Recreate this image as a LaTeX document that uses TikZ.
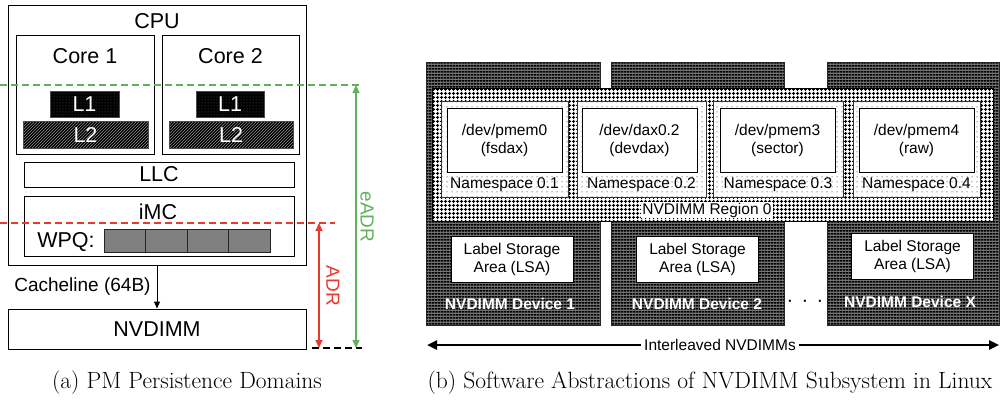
\documentclass[tikz,border=0pt]{standalone}
\usepackage{fontspec}
\setsansfont{Liberation Sans}
\usetikzlibrary{arrows.meta,patterns,patterns.meta}
\definecolor{adrred}{RGB}{232,58,45}
\definecolor{eadrgreen}{RGB}{96,178,90}

\tikzdeclarepattern{name=regiongrid, type=uncolored,
  bounding box={(0pt,0pt) and (4pt,4pt)}, tile size={(4pt,4pt)},
  code={\draw[line width=1.5pt] (0pt,2pt) -- (4pt,2pt) (2pt,0pt) -- (2pt,4pt);}}
\tikzdeclarepattern{name=devstripes, type=uncolored,
  bounding box={(0pt,0pt) and (3pt,3pt)}, tile size={(3pt,3pt)},
  code={\draw[line width=1.9pt] (0pt,1.5pt) -- (3pt,1.5pt);}}
\tikzdeclarepattern{name=nsdots, type=uncolored,
  bounding box={(0pt,0pt) and (5pt,5pt)}, tile size={(5pt,5pt)},
  code={\fill (2.5pt,2.5pt) circle (0.6pt);}}
\tikzdeclarepattern{name=cachedots, type=uncolored,
  bounding box={(0pt,0pt) and (2.5pt,2.5pt)}, tile size={(2.5pt,2.5pt)},
  code={\fill (1.25pt,1.25pt) circle (0.5pt);}}

\tikzset{
  sz/.style 2 args={minimum width=#1, minimum height=#2},
  box/.style={draw, line width=0.9pt, inner sep=0pt, fill=white},
  bigtxt/.style={font=\sffamily\fontsize{21.5}{24}\selectfont},
  midtxt/.style={font=\sffamily\fontsize{19}{22}\selectfont},
  smalltxt/.style={font=\sffamily\fontsize{15.5}{18}\selectfont},
  captxt/.style={font=\fontsize{23.5}{26}\selectfont},
  lonebox/.style={draw=black!70, line width=0.8pt, inner sep=0pt, text=white,
    preaction={fill=black}, pattern=cachedots, pattern color=black!55, bigtxt},
  ltwobox/.style={draw=black!70, line width=0.8pt, inner sep=0pt, text=white,
    preaction={fill=black}, pattern=north east lines, pattern color=black!45, bigtxt},
  wpqcell/.style={draw=black!85, line width=0.9pt, fill=black!50, sz={41.5}{23}},
  device/.style={draw=black!85, line width=0.8pt, preaction={fill=black!55},
    pattern=devstripes, pattern color=black},
  nsbox/.style={draw=black!80, line width=0.8pt, preaction={fill=white},
    pattern=nsdots, pattern color=black, sz={#1}{96}},
  devbox/.style={box, line width=0.8pt, sz={115}{64}, smalltxt, align=center},
  lsabox/.style={box, line width=0.8pt, sz={122}{46}, smalltxt, align=center},
  devlabel/.style={text=white, font=\sffamily\bfseries\fontsize{15.5}{18}\selectfont},
  domainline/.style={dash pattern=on 7pt off 4pt, line width=1.1pt},
  spanarrow/.style={{Triangle[length=8pt,width=7pt]}-{Triangle[length=8pt,width=7pt]}, line width=1.1pt}
}

\begin{document}
\begin{tikzpicture}[x=1pt,y=-1pt]
  \useasboundingbox (0,0) rectangle (1008,399);

  %%%%% (a) persistence domains %%%%%
  \node[box, sz={298}{260}] (cpu) at (157,135) {};
  \node[bigtxt] (cputxt) at (157,21) {CPU};

  \node[box, sz={138}{119}] (core1) at (85,94.5) {};
  \node[bigtxt] (core1txt) at (85,56) {Core 1};
  \node[box, sz={137}{119}] (core2) at (230.5,94.5) {};
  \node[bigtxt] (core2txt) at (230.5,56) {Core 2};

  \node[lonebox, sz={69}{26}] (lonea) at (84.5,104) {L1};
  \node[ltwobox, sz={125}{27}] (ltwoa) at (85.5,134.5) {L2};
  \node[lonebox, sz={68}{26}] (loneb) at (230,104) {L1};
  \node[ltwobox, sz={124}{27}] (ltwob) at (231,134.5) {L2};

  \node[box, sz={270}{25}, bigtxt] (llc) at (159,174.5) {LLC};
  \node[box, sz={270}{60}] (imc) at (159,226) {};
  \node[bigtxt] (imctxt) at (158,212) {iMC};
  \node[bigtxt] (wpqtxt) at (66,242) {WPQ:};
  \foreach \i in {0,...,3}
    \node[wpqcell] (wpq\i) at (124.75+41.5*\i,240.5) {};

  \node[box, sz={298}{40}, bigtxt] (nvdimm) at (157,329) {NVDIMM};
  \draw[-{Triangle[length=7pt,width=6pt]}, line width=0.9pt] (cpu.south) -- (nvdimm.north)
    node[midway, left, inner sep=6pt, midtxt] (cacheline) {Cacheline (64B)};

  % domains
  \coordinate (greenl) at (0,85);
  \coordinate (greenr) at (362,85);
  \coordinate (redl) at (0,223);
  \coordinate (redr) at (335,223);
  \coordinate (basel) at (312,348);
  \coordinate (baser) at (362,348);
  \draw[domainline, eadrgreen] (greenl) -- (greenr);
  \draw[domainline, adrred] (redl) -- (redr);
  \draw[domainline, black] (basel) -- (baser);
  \draw[spanarrow, eadrgreen] (356,85) -- (356,348);
  \draw[spanarrow, adrred] (319,223) -- (319,348);
  \node[midtxt, eadrgreen, rotate=-90] (eadr) at (367,217) {eADR};
  \node[midtxt, adrred, rotate=-90] (adr) at (333,286) {ADR};

  \node[captxt] (capa) at (187,383) {(a) PM Persistence Domains};

  %%%%% (b) NVDIMM subsystem %%%%%
  \draw[device] (426,62) rectangle (600,325);
  \draw[device] (611,62) rectangle (784,325);
  \draw[device] (827,62) rectangle (999,325);

  \draw[line width=0.8pt, preaction={fill=white}, pattern=regiongrid, pattern color=black]
    (432,88) rectangle (993,221);

  \node[nsbox=127] (nsa) at (504.5,149) {};
  \node[nsbox=129] (nsb) at (641.5,149) {};
  \node[nsbox=130] (nsc) at (778,149) {};
  \node[nsbox=127] (nsd) at (916.5,149) {};

  \node[devbox] (pmema) at (504.5,140) {/dev/pmem0\\(fsdax)};
  \node[devbox] (daxb) at (639.5,140) {/dev/dax0.2\\(devdax)};
  \node[devbox] (pmemc) at (777.5,140) {/dev/pmem3\\(sector)};
  \node[devbox] (pmemd) at (916.5,140) {/dev/pmem4\\(raw)};

  \node[smalltxt] (nsatxt) at (504.5,185) {Namespace 0.1};
  \node[smalltxt] (nsbtxt) at (641.5,185) {Namespace 0.2};
  \node[smalltxt] (nsctxt) at (778,185) {Namespace 0.3};
  \node[smalltxt] (nsdtxt) at (916.5,185) {Namespace 0.4};

  \node[smalltxt, fill=white, inner sep=1pt] (region) at (707,210) {NVDIMM Region 0};

  \node[lsabox] (lsaa) at (512,259) {Label Storage\\Area (LSA)};
  \node[lsabox] (lsab) at (697.5,259) {Label Storage\\Area (LSA)};
  \node[lsabox] (lsax) at (912.5,256.5) {Label Storage\\Area (LSA)};

  \node[devlabel] (deva) at (510,304) {NVDIMM Device 1};
  \node[devlabel] (devb) at (697,304) {NVDIMM Device 2};
  \node[devlabel] (devx) at (910,302) {NVDIMM Device X};
  \node[captxt] (more) at (805,301) {$.\,\,.\,\,.$};

  \node[smalltxt] (ilv) at (720,345) {Interleaved NVDIMMs};
  \coordinate (ilvl) at (427,345);
  \coordinate (ilvr) at (999,345);
  \draw[-{Triangle[length=10pt,width=9pt]}, line width=2.4pt] (ilv.west) -- (ilvl);
  \draw[-{Triangle[length=10pt,width=9pt]}, line width=2.4pt] (ilv.east) -- (ilvr);

  \node[captxt] (capb) at (710,383) {(b) Software Abstractions of NVDIMM Subsystem in Linux};
\end{tikzpicture}
\end{document}
